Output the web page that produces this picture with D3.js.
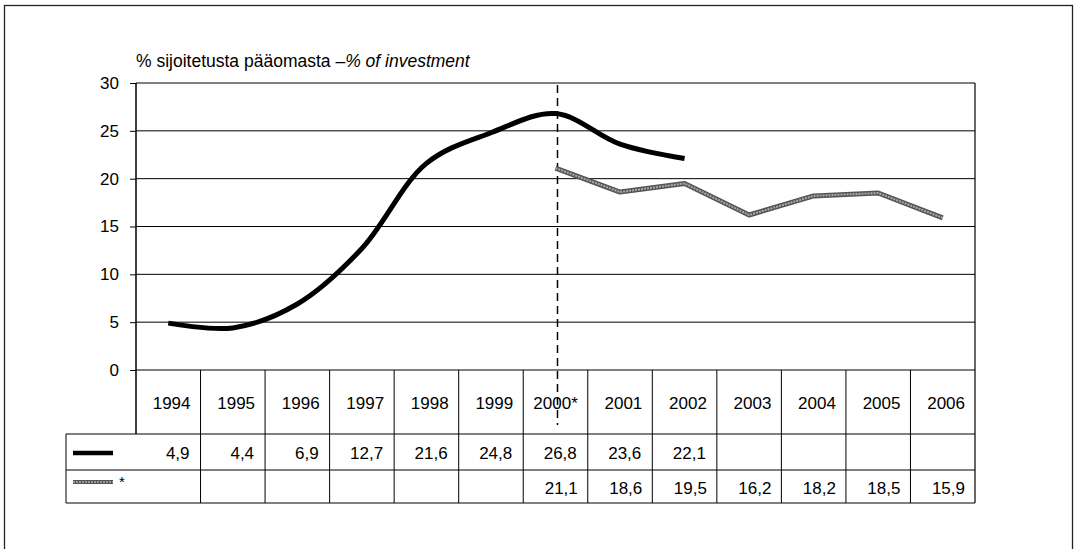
<!DOCTYPE html>
<html><head><meta charset="utf-8">
<script src="https://cdn.jsdelivr.net/npm/d3@7"></script>
<style>
html,body{margin:0;padding:0;background:#fff;}
svg{display:block;font-family:"Liberation Sans",Arial,sans-serif;}
</style></head>
<body><svg id="c" width="1076" height="549"></svg>
<script>
const categories = ["1994","1995","1996","1997","1998","1999","2000*","2001","2002","2003","2004","2005","2006"];
const seriesA = [4.9,4.4,6.9,12.7,21.6,24.8,26.8,23.6,22.1,null,null,null,null];
const seriesB = [null,null,null,null,null,null,21.1,18.6,19.5,16.2,18.2,18.5,15.9];
const yTicks = [0,5,10,15,20,25,30];
const titleMain = "% sijoitetusta pääomasta \u2013";
const titleItalic = "% of investment";
const fmt = v => v == null ? "" : String(v.toFixed(1)).replace(".", ",");

const svg = d3.select("#c");
const L = 136, R = 975, T = 83, B = 370;
const rowYear = 434, rowA = 470, rowB = 503, legL = 66;
const FS = 17;

const x = d3.scaleBand().domain(categories).range([L, R]).padding(0);
const y = d3.scaleLinear().domain([0, 30]).range([B, T]);
const cx = c => x(c) + x.bandwidth() / 2;

// outer frame
svg.append("rect").attr("x", 4.5).attr("y", 5.5).attr("width", 1068).attr("height", 600)
  .attr("fill", "none").attr("stroke", "#222").attr("stroke-width", 1.3);

// title
const t = svg.append("text").attr("x", L).attr("y", 67).attr("font-size", 17.5).attr("fill", "#000");
t.append("tspan").text(titleMain);
t.append("tspan").attr("font-style", "italic").text(titleItalic);

// gridlines
svg.append("g").selectAll("line").data(yTicks).join("line")
  .attr("x1", L).attr("x2", R).attr("y1", d => y(d)).attr("y2", d => y(d))
  .attr("stroke", "#000").attr("stroke-width", 1);

// y axis
const yAxis = d3.axisLeft(y).tickValues(yTicks).tickSize(6).tickPadding(11).tickFormat(d => d);
const ga = svg.append("g").attr("transform", `translate(${L},0)`).call(yAxis);
ga.select(".domain").remove();
ga.selectAll(".tick line").attr("stroke", "#000");
ga.selectAll(".tick text").attr("font-size", FS).attr("fill", "#000").attr("font-family", "Liberation Sans, Arial, sans-serif");
svg.append("line").attr("x1", L).attr("x2", L).attr("y1", T).attr("y2", rowYear).attr("stroke", "#000").attr("stroke-width", 1.5);
svg.append("line").attr("x1", R).attr("x2", R).attr("y1", T).attr("y2", rowB).attr("stroke", "#000").attr("stroke-width", 1.2);

// table grid
const tbl = svg.append("g").attr("stroke", "#000").attr("stroke-width", 1);
tbl.selectAll("line.col").data(categories.slice(1)).join("line")
  .attr("x1", d => x(d)).attr("x2", d => x(d)).attr("y1", B).attr("y2", rowB);
[rowYear, rowA].forEach(yy => tbl.append("line").attr("x1", legL).attr("x2", R).attr("y1", yy).attr("y2", yy));
tbl.append("line").attr("x1", legL).attr("x2", R).attr("y1", rowB).attr("y2", rowB);
tbl.append("line").attr("x1", legL).attr("x2", legL).attr("y1", rowYear).attr("y2", rowB);

const pad = 10;
svg.append("g").selectAll("text").data(categories).join("text")
  .attr("x", d => x(d) + x.bandwidth() - pad).attr("y", 409).attr("text-anchor", "end")
  .attr("font-size", FS).text(d => d);
svg.append("g").selectAll("text").data(seriesA.map((v, i) => [categories[i], v])).join("text")
  .attr("x", d => x(d[0]) + x.bandwidth() - pad - 1).attr("y", 459).attr("text-anchor", "end")
  .attr("font-size", FS).text(d => fmt(d[1]));
svg.append("g").selectAll("text").data(seriesB.map((v, i) => [categories[i], v])).join("text")
  .attr("x", d => x(d[0]) + x.bandwidth() - pad).attr("y", 494).attr("text-anchor", "end")
  .attr("font-size", FS).text(d => fmt(d[1]));

// legend keys
svg.append("line").attr("x1", 73).attr("x2", 113).attr("y1", 453).attr("y2", 453)
  .attr("stroke", "#000").attr("stroke-width", 4.5);
svg.append("line").attr("x1", 73).attr("x2", 113).attr("y1", 482).attr("y2", 482)
  .attr("stroke", "#555").attr("stroke-width", 4);
svg.append("line").attr("x1", 73).attr("x2", 113).attr("y1", 482).attr("y2", 482)
  .attr("stroke", "#aaa").attr("stroke-width", 1.6).attr("stroke-dasharray", "2 1");
svg.append("text").attr("x", 119).attr("y", 487).attr("font-size", 15).text("*");

// dashed divider
svg.append("line").attr("x1", cx("2000*") + 2).attr("x2", cx("2000*") + 2).attr("y1", T + 2).attr("y2", 425)
  .attr("stroke", "#000").attr("stroke-width", 1.5).attr("stroke-dasharray", "8 5");

// series lines
const ptsA = categories.map((c, i) => [c, seriesA[i]]).filter(d => d[1] != null);
const ptsB = categories.map((c, i) => [c, seriesB[i]]).filter(d => d[1] != null);
const lineSmooth = d3.line().x(d => cx(d[0])).y(d => y(d[1])).curve(d3.curveCatmullRom.alpha(0.5));
const lineStraight = d3.line().x(d => cx(d[0])).y(d => y(d[1]));
svg.append("path").attr("d", lineStraight(ptsB)).attr("fill", "none")
  .attr("stroke", "#555").attr("stroke-width", 5).attr("stroke-linejoin", "round");
svg.append("path").attr("d", lineStraight(ptsB)).attr("fill", "none")
  .attr("stroke", "#aaa").attr("stroke-width", 2).attr("stroke-dasharray", "2 1");
svg.append("path").attr("d", lineSmooth(ptsA)).attr("fill", "none")
  .attr("stroke", "#000").attr("stroke-width", 5).attr("stroke-linejoin", "round");
</script></body></html>
